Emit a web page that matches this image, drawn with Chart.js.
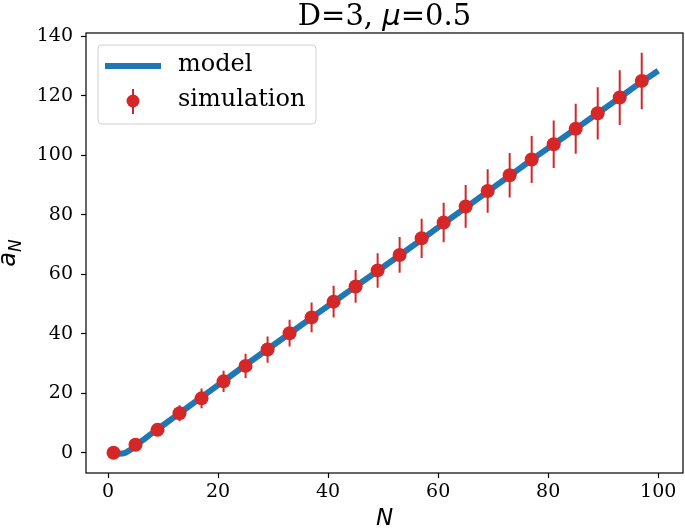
<!DOCTYPE html>
<html>
<head>
<meta charset="utf-8">
<script src="https://cdn.jsdelivr.net/npm/chart.js@4/dist/chart.umd.min.js"></script>
<style>
  html, body { margin: 0; padding: 0; background: #fff; }
  #wrap { width: 685px; height: 529px; }
</style>
</head>
<body>
<div id="wrap"><canvas id="c" width="685" height="529"></canvas></div>
<script>
const simN = [1, 5, 9, 13, 17, 21, 25, 29, 33, 37, 41, 45, 49, 53, 57, 61, 65, 69, 73, 77, 81, 85, 89, 93, 97];
const simA = [0, 2.7, 7.7, 13.3, 18.3, 24.0, 29.2, 34.7, 40.2, 45.5, 50.8, 55.9, 61.3, 66.5, 72.1, 77.4, 82.8, 88.0, 93.3, 98.6, 103.7, 108.9, 114.1, 119.4, 125.0];
const simErr = [0.2, 1.0, 1.8, 2.7, 3.3, 3.6, 4.1, 4.4, 4.5, 5.0, 5.3, 5.5, 5.8, 6.0, 6.6, 6.6, 7.2, 7.3, 7.5, 7.9, 8.0, 8.4, 8.8, 9.2, 9.5];
const modelN = [1, 2, 3, 4, 5, 6, 7, 9, 11, 13, 17, 21, 25, 29, 33, 37, 41, 45, 49, 53, 57, 61, 65, 69, 73, 77, 81, 85, 89, 93, 97, 100];
const modelA = [0, -0.3, -0.1, 0.9, 2.4, 3.8, 5.2, 7.9, 10.6, 13.3, 18.7, 24.1, 29.5, 34.8, 40.1, 45.4, 50.7, 55.9, 61.1, 66.4, 71.7, 77.1, 82.4, 87.8, 93.1, 98.5, 103.7, 108.9, 114.1, 119.4, 124.7, 128.4];
const xTicks = [0, 20, 40, 60, 80, 100];
const yTicks = [0, 20, 40, 60, 80, 100, 120, 140];

const blue = '#1f77b4', red = '#d62728';
const serif = "'DejaVu Serif', serif";
const sans = "'DejaVu Sans', sans-serif";

// error bars as one line dataset broken by null gaps
const errPts = [];
simN.forEach((n, i) => {
  errPts.push({ x: n, y: simA[i] - simErr[i] });
  errPts.push({ x: n, y: simA[i] + simErr[i] });
  errPts.push({ x: n, y: null });
});

const decor = {
  id: 'decor',
  afterDraw(chart) {
    const ctx = chart.ctx, a = chart.chartArea;
    ctx.save();
    // spines
    ctx.strokeStyle = '#000';
    ctx.lineWidth = 1.2;
    ctx.strokeRect(a.left, a.top, a.right - a.left, a.bottom - a.top);

    // title with italic mu
    const parts = [['D=3, ', '29px ' + serif], ['\u03bc', 'italic 29px ' + sans], ['=0.5', '29px ' + serif]];
    let w = 0;
    parts.forEach(p => { ctx.font = p[1]; w += ctx.measureText(p[0]).width; });
    let x = (a.left + a.right) / 2 - w / 2;
    ctx.fillStyle = '#000';
    ctx.textBaseline = 'alphabetic';
    ctx.textAlign = 'left';
    parts.forEach(p => { ctx.font = p[1]; ctx.fillText(p[0], x, 25); x += ctx.measureText(p[0]).width; });

    // x label
    ctx.font = 'italic 23px ' + sans;
    ctx.textAlign = 'center';
    ctx.fillText('N', (a.left + a.right) / 2, 525);

    // y label a_N
    ctx.save();
    ctx.translate(15, (a.top + a.bottom) / 2);
    ctx.rotate(-Math.PI / 2);
    ctx.textAlign = 'left';
    ctx.font = 'italic 24px ' + sans;
    const aw = ctx.measureText('a').width;
    ctx.font = 'italic 17px ' + sans;
    const nw = ctx.measureText('N').width;
    const sx = -(aw + nw) / 2;
    ctx.font = 'italic 24px ' + sans;
    ctx.fillText('a', sx, 0);
    ctx.font = 'italic 17px ' + sans;
    ctx.fillText('N', sx + aw, 6);
    ctx.restore();

    // legend
    const lx = 98, ly = 45, lw = 218, lh = 79;
    ctx.beginPath();
    ctx.roundRect(lx, ly, lw, lh, 4);
    ctx.fillStyle = 'rgba(255,255,255,0.8)';
    ctx.fill();
    ctx.strokeStyle = '#d0d0d0';
    ctx.lineWidth = 1;
    ctx.stroke();
    ctx.strokeStyle = blue;
    ctx.lineWidth = 6;
    ctx.beginPath();
    ctx.moveTo(105, 66); ctx.lineTo(161, 66);
    ctx.stroke();
    ctx.strokeStyle = red;
    ctx.lineWidth = 2;
    ctx.beginPath();
    ctx.moveTo(133, 89); ctx.lineTo(133, 114);
    ctx.stroke();
    ctx.fillStyle = red;
    ctx.beginPath();
    ctx.arc(133, 101, 6.5, 0, Math.PI * 2);
    ctx.fill();
    ctx.fillStyle = '#000';
    ctx.font = '24px ' + serif;
    ctx.textAlign = 'left';
    ctx.textBaseline = 'middle';
    ctx.fillText('model', 178, 65);
    ctx.fillText('simulation', 178, 100);
    ctx.restore();
  }
};

new Chart(document.getElementById('c'), {
  type: 'line',
  data: {
    datasets: [
      {
        label: 'model',
        data: modelN.map((n, i) => ({ x: n, y: modelA[i] })),
        borderColor: blue, borderWidth: 6, pointRadius: 0,
        cubicInterpolationMode: 'monotone', fill: false, order: 3
      },
      {
        label: 'err',
        data: errPts,
        borderColor: red, borderWidth: 2, pointRadius: 0, spanGaps: false, order: 2
      },
      {
        label: 'simulation',
        data: simN.map((n, i) => ({ x: n, y: simA[i] })),
        showLine: false, pointRadius: 7, pointBackgroundColor: red,
        pointBorderWidth: 0, borderColor: red, order: 1
      }
    ]
  },
  options: {
    responsive: false,
    animation: false,
    events: [],
    layout: { autoPadding: false, padding: { left: 0, right: 2, top: 33, bottom: 0 } },
    plugins: { legend: { display: false }, title: { display: false }, tooltip: { enabled: false } },
    scales: {
      x: {
        type: 'linear', min: -4, max: 104.5,
        afterBuildTicks: s => { s.ticks = xTicks.map(v => ({ value: v })); },
        afterFit: s => { s.height = 56; s.paddingLeft = 0; s.paddingRight = 0; },
        grid: { drawOnChartArea: false, drawTicks: true, tickLength: 5, tickColor: '#000', tickWidth: 1.2 },
        border: { display: false },
        ticks: { color: '#000', font: { family: serif, size: 19 }, padding: 3, maxRotation: 0 }
      },
      y: {
        type: 'linear', min: -6.8, max: 141.1,
        afterBuildTicks: s => { s.ticks = yTicks.map(v => ({ value: v })); },
        afterFit: s => { s.width = 86; },
        grid: { drawOnChartArea: false, drawTicks: true, tickLength: 5, tickColor: '#000', tickWidth: 1.2 },
        border: { display: false },
        ticks: { color: '#000', font: { family: serif, size: 19 }, padding: 8 }
      }
    }
  },
  plugins: [decor]
});
</script>
</body>
</html>
